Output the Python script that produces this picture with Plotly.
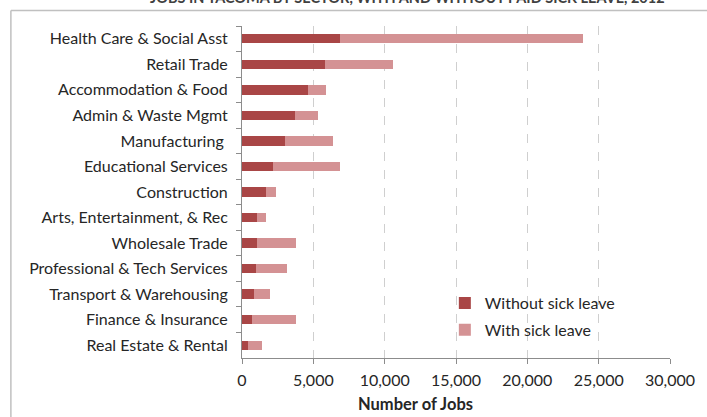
import plotly.graph_objects as go

categories = [
    "Health Care & Social Asst",
    "Retail Trade",
    "Accommodation & Food",
    "Admin & Waste Mgmt",
    "Manufacturing ",
    "Educational Services",
    "Construction",
    "Arts, Entertainment, & Rec",
    "Wholesale Trade",
    "Professional & Tech Services",
    "Transport & Warehousing",
    "Finance & Insurance",
    "Real Estate & Rental",
]
without_sick_leave = [6860, 5850, 4620, 3690, 3020, 2160, 1700, 1080, 1080, 980, 850, 680, 430]
with_sick_leave = [17040, 4720, 1300, 1640, 3380, 4680, 670, 620, 2700, 2160, 1080, 3080, 990]
x_ticks = [0, 5000, 10000, 15000, 20000, 25000, 30000]
x_tick_labels = ["0", "5,000", "10,000", "15,000", "20,000", "25,000", "30,000"]
title_text = "JOBS IN TACOMA BY SECTOR, WITH AND WITHOUT PAID SICK LEAVE, 2012"
x_title = "Number of Jobs"

W, H = 707, 417
L, R, T, B = 241.5, 34, 26, 59
pw, ph = W - L - R, H - T - B


def px_x(p):
    return (p - L) / pw


def px_y(p):
    return (H - B - p) / ph


FONT = "Lato"
TXT = "#262626"
FS = 16

fig = go.Figure()
fig.add_trace(go.Bar(
    y=categories, x=without_sick_leave, orientation="h",
    name="Without sick leave", legendgroup="a",
    marker=dict(color="#A94646", line_width=0), width=0.37,
))
fig.add_trace(go.Bar(
    y=categories, x=with_sick_leave, orientation="h",
    name="With sick leave", legendgroup="b",
    marker=dict(color="#D49294", line_width=0), width=0.37,
))

fig.update_layout(
    width=W, height=H,
    barmode="stack",
    margin=dict(l=L, r=R, t=T, b=B, pad=0),
    paper_bgcolor="white", plot_bgcolor="white",
    font=dict(family=FONT, size=FS, color=TXT),
    showlegend=True,
    legend=dict(
        x=px_x(446), y=px_y(286), xanchor="left", yanchor="top",
        bgcolor="rgba(0,0,0,0)", font=dict(size=FS, color=TXT),
        traceorder="grouped", itemwidth=30, tracegroupgap=3,
    ),
    xaxis=dict(
        range=[0, 30000], tickvals=x_ticks, ticktext=x_tick_labels,
        showgrid=True, gridcolor="#cfcfcf", griddash="dash", gridwidth=1,
        showline=True, linecolor="#8c8c8c", linewidth=1,
        ticks="outside", ticklen=5, tickcolor="#8c8c8c",
        zeroline=False, tickfont=dict(size=FS, color=TXT),
        ticklabelstandoff=3,
    ),
    yaxis=dict(
        autorange="reversed", type="category",
        showline=True, linecolor="#8c8c8c", linewidth=1,
        ticks="outside", ticklen=5, tickcolor="#8c8c8c", tickson="boundaries",
        showgrid=False, tickfont=dict(size=FS, color=TXT),
        ticklabelstandoff=10,
    ),
    annotations=[
        dict(text="<b>" + x_title + "</b>", xref="paper", yref="paper",
             x=px_x(416), y=px_y(404), xanchor="center", yanchor="middle",
             showarrow=False, font=dict(size=16.5, color=TXT)),
        dict(text="<b>" + title_text + "</b>", xref="paper", yref="paper",
             x=px_x(408), y=px_y(-3), xanchor="center", yanchor="middle",
             showarrow=False, font=dict(size=14.5, color="#404040")),
    ],
    shapes=[
        dict(type="line", xref="paper", yref="paper",
             x0=px_x(8.5), x1=px_x(720), y0=px_y(10.5), y1=px_y(10.5),
             line=dict(color="#c0c0c0", width=1.5), layer="above"),
        dict(type="line", xref="paper", yref="paper",
             x0=px_x(8.5), x1=px_x(8.5), y0=px_y(10.5), y1=px_y(430),
             line=dict(color="#c0c0c0", width=1.5), layer="above"),
    ],
)

fig.write_html(
    "out.html",
    config={"displayModeBar": False},
    post_script="document.body.style.margin='0';document.body.style.overflow='hidden';",
)
